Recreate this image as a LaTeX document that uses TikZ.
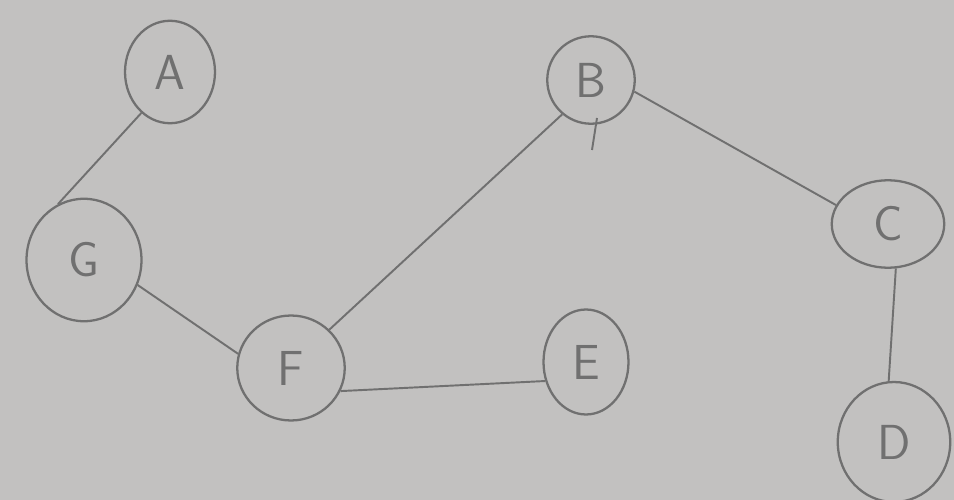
\documentclass[tikz,border=0pt]{standalone}
\usetikzlibrary{shapes.geometric}
\definecolor{paper}{HTML}{C2C1C0}
\definecolor{pencil}{HTML}{707070}
\begin{document}
\begin{tikzpicture}[x=0.02cm,y=-0.02cm,
  vtx/.style={ellipse,draw=pencil,line width=1.3pt,text=pencil,inner sep=0pt,
    font=\fontsize{28}{28}\selectfont\sffamily},
  edge/.style={draw=pencil,line width=1.1pt}]
\fill[paper] (0,0) rectangle (954,500);
\useasboundingbox (0,0) rectangle (954,500);
\node[vtx,minimum width=1.8cm,minimum height=2.05cm] (a) at (170,72) {A};
\node[vtx,minimum width=2.3cm,minimum height=2.45cm] (g) at (84,260) {G};
\node[vtx,minimum width=2.15cm,minimum height=2.1cm] (f) at (291,368) {F};
\node[vtx,minimum width=1.75cm,minimum height=1.75cm] (b) at (591,80) {B};
\node[vtx,minimum width=1.7cm,minimum height=2.1cm] (e) at (586,362) {E};
\node[vtx,minimum width=2.25cm,minimum height=1.75cm] (c) at (888,224) {C};
\node[vtx,minimum width=2.25cm,minimum height=2.4cm] (d) at (894,442) {D};
\coordinate (bt1) at (597,118);
\coordinate (bt2) at (592,150);
\draw[edge] (a.235) -- (g.115);
\draw[edge] (g.-25) -- (f.165);
\draw[edge] (f.45) -- (b.230);
\draw[edge] (f.-25) -- (e.205);
\draw[edge] (b.-15) -- (c.160);
\draw[edge] (c.-80) -- (d.95);
\draw[edge] (bt1) -- (bt2);
\end{tikzpicture}
\end{document}
